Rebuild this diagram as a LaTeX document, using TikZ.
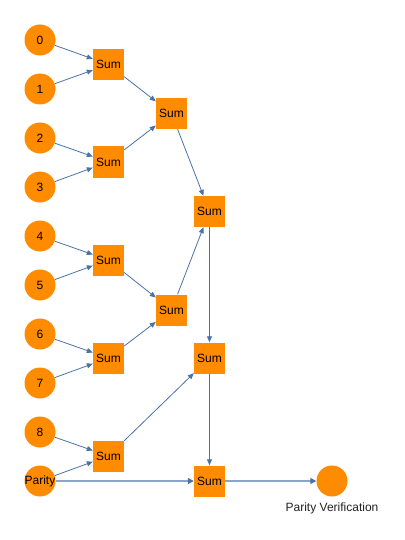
\documentclass[tikz,border=0pt]{standalone}
\usepackage{fontspec}
\setmainfont{Liberation Sans}
\usetikzlibrary{arrows.meta}
\definecolor{nodeorange}{HTML}{FF8C00}
\definecolor{edgeblue}{HTML}{4A72A6}
\definecolor{edgelight}{HTML}{88A6C9}
\definecolor{labelgray}{HTML}{222222}
\tikzset{
  txt/.style={font=\fontsize{12}{14}\selectfont},
  inbit/.style={circle,fill=nodeorange,draw=none,minimum size=31pt,inner sep=0pt,txt},
  sumbox/.style={rectangle,fill=nodeorange,draw=none,minimum size=31pt,inner sep=0pt,txt},
  conn/.style={draw=edgeblue,line width=0.8pt,-{Triangle[length=6pt,width=5pt]}},
  thickconn/.style={draw=edgelight,line width=2pt,-{Triangle[length=6pt,width=6pt,color=edgeblue]}},
}
\begin{document}
\begin{tikzpicture}[x=1pt,y=-1pt]
\useasboundingbox (0,0) rectangle (404,540);
% inputs
\node[inbit] (b0) at (40,40) {0};
\node[inbit] (b1) at (40,89) {1};
\node[inbit] (b2) at (40,138) {2};
\node[inbit] (b3) at (40,187) {3};
\node[inbit] (b4) at (40,236) {4};
\node[inbit] (b5) at (40,285) {5};
\node[inbit] (b6) at (40,334) {6};
\node[inbit] (b7) at (40,383) {7};
\node[inbit] (b8) at (40,432) {8};
\node[inbit,label={[txt,inner sep=0pt]center:Parity}] (bp) at (40,481) {};
% level 1
\node[sumbox] (s1a) at (108.5,64.5) {Sum};
\node[sumbox] (s1b) at (108.5,162) {Sum};
\node[sumbox] (s1c) at (108.5,260) {Sum};
\node[sumbox] (s1d) at (108.5,358) {Sum};
\node[sumbox] (s1e) at (108.5,456) {Sum};
% level 2
\node[sumbox] (s2a) at (171.5,113.5) {Sum};
\node[sumbox] (s2b) at (171.5,310) {Sum};
% level 3
\node[sumbox] (s3) at (209.5,211.5) {Sum};
\node[sumbox] (s4) at (209.5,358) {Sum};
\node[sumbox] (s5) at (209.5,481) {Sum};
% output
\node[circle,fill=nodeorange,minimum size=31pt,inner sep=0pt,
      label={[txt,text=labelgray,label distance=3pt]below:Parity Verification}] (pv) at (332,481) {};
% edges
\draw[conn] (b0) -- (s1a);
\draw[conn] (b1) -- (s1a);
\draw[conn] (b2) -- (s1b);
\draw[conn] (b3) -- (s1b);
\draw[conn] (b4) -- (s1c);
\draw[conn] (b5) -- (s1c);
\draw[conn] (b6) -- (s1d);
\draw[conn] (b7) -- (s1d);
\draw[conn] (b8) -- (s1e);
\draw[conn] (bp) -- (s1e);
\draw[conn] (s1a) -- (s2a);
\draw[conn] (s1b) -- (s2a);
\draw[conn] (s1c) -- (s2b);
\draw[conn] (s1d) -- (s2b);
\draw[conn] (s2a) -- (s3);
\draw[conn] (s2b) -- (s3);
\draw[conn] (s3) -- (s4);
\draw[conn] (s1e) -- (s4);
\draw[conn] (s4) -- (s5);
\draw[thickconn] (bp) -- (s5);
\draw[thickconn] (s5) -- (pv);
\end{tikzpicture}
\end{document}
